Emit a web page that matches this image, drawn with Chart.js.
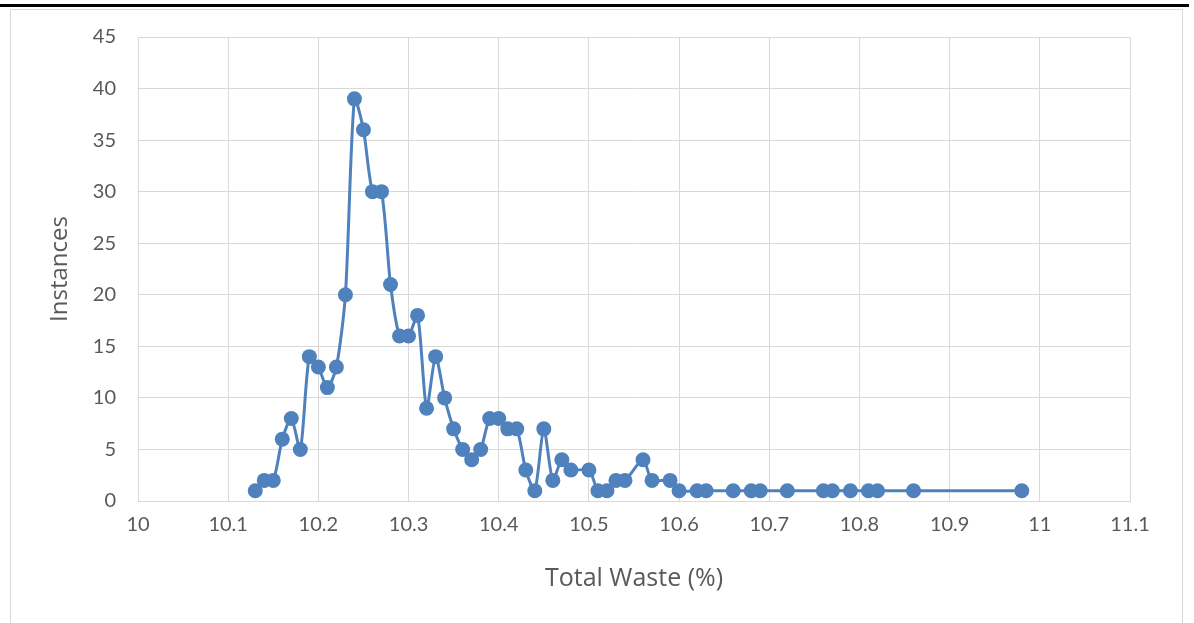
<!DOCTYPE html>
<html>
<head>
<meta charset="utf-8">
<script src="https://cdn.jsdelivr.net/npm/chart.js@4/dist/chart.umd.min.js"></script>
<style>
  html, body { margin: 0; padding: 0; background: #fff; }
  #wrap { position: relative; width: 1194px; height: 623px; overflow: hidden; }
  #topline { position: absolute; left: 0; top: 4px; width: 1189px; height: 3px; background: #000; }
  #frame { position: absolute; left: 10px; top: 9px; width: 1171px; height: 700px; border: 1px solid #d9d9d9; }
  canvas { position: absolute; left: 0; top: 0; }
</style>
</head>
<body>
<div id="wrap">
  <div id="topline"></div>
  <div id="frame"></div>
  <canvas id="chart" width="1194" height="623"></canvas>
</div>
<script>
// Total waste (%) vs number of instances
const wastePct = [
  10.13, 10.14, 10.15, 10.16, 10.17, 10.18, 10.19, 10.20, 10.21, 10.22,
  10.23, 10.24, 10.25, 10.26, 10.27, 10.28, 10.29, 10.30, 10.31, 10.32,
  10.33, 10.34, 10.35, 10.36, 10.37, 10.38, 10.39, 10.40, 10.41, 10.42,
  10.43, 10.44, 10.45, 10.46, 10.47, 10.48, 10.50, 10.51, 10.52, 10.53,
  10.54, 10.56, 10.57, 10.59, 10.60, 10.62, 10.63, 10.66, 10.68, 10.69,
  10.72, 10.76, 10.77, 10.79, 10.81, 10.82, 10.86, 10.98
];
const instances = [
  1, 2, 2, 6, 8, 5, 14, 13, 11, 13,
  20, 39, 36, 30, 30, 21, 16, 16, 18, 9,
  14, 10, 7, 5, 4, 5, 8, 8, 7, 7,
  3, 1, 7, 2, 4, 3, 3, 1, 1, 2,
  2, 4, 2, 2, 1, 1, 1, 1, 1, 1,
  1, 1, 1, 1, 1, 1, 1, 1
];
const xTickLabels = ['10', '10.1', '10.2', '10.3', '10.4', '10.5', '10.6', '10.7', '10.8', '10.9', '11', '11.1'];
const yTickLabels = ['0', '5', '10', '15', '20', '25', '30', '35', '40', '45'];

const points = wastePct.map((x, i) => ({ x: x, y: instances[i] }));

const blue = '#4f81bd';
const textColor = '#595959';
const gridColor = '#d9d9d9';
const fontFamily = 'Lato, "Noto Sans", sans-serif';
const titleFont = '"Open Sans", Lato, sans-serif';

const ctx = document.getElementById('chart').getContext('2d');
new Chart(ctx, {
  type: 'scatter',
  data: {
    datasets: [{
      data: points,
      showLine: true,
      borderColor: blue,
      backgroundColor: blue,
      borderWidth: 3,
      tension: 0.25,
      pointRadius: 7.5,
      pointHoverRadius: 7.5,
      pointBorderWidth: 0
    }]
  },
  options: {
    responsive: false,
    animation: false,
    layout: { padding: { left: 10, top: 37, right: 64, bottom: 0 } },
    plugins: { legend: { display: false }, tooltip: { enabled: false } },
    scales: {
      x: {
        type: 'linear',
        min: 10,
        max: 11.1,
        ticks: {
          stepSize: 0.1,
          color: textColor,
          font: { family: fontFamily, size: 20 },
          padding: 12,
          maxRotation: 0,
          autoSkip: false,
          callback: (v, i) => xTickLabels[i]
        },
        grid: { color: gridColor, lineWidth: 1, drawTicks: false },
        border: { color: gridColor },
        title: {
          display: true,
          text: 'Total Waste (%)',
          color: textColor,
          font: { family: titleFont, size: 25 },
          padding: { top: 0, bottom: 29 }
        },
        afterFit: (scale) => { scale.height = 122; }
      },
      y: {
        min: 0,
        max: 45,
        ticks: {
          stepSize: 5,
          color: textColor,
          font: { family: fontFamily, size: 20 },
          padding: 22,
          callback: (v, i) => yTickLabels[i]
        },
        grid: { color: gridColor, lineWidth: 1, drawTicks: false },
        border: { color: gridColor },
        title: {
          display: true,
          text: 'Instances',
          color: textColor,
          font: { family: titleFont, size: 24 },
          padding: { top: 36, bottom: 0 }
        },
        afterFit: (scale) => { scale.width = 128; }
      }
    }
  }
});
</script>
</body>
</html>
